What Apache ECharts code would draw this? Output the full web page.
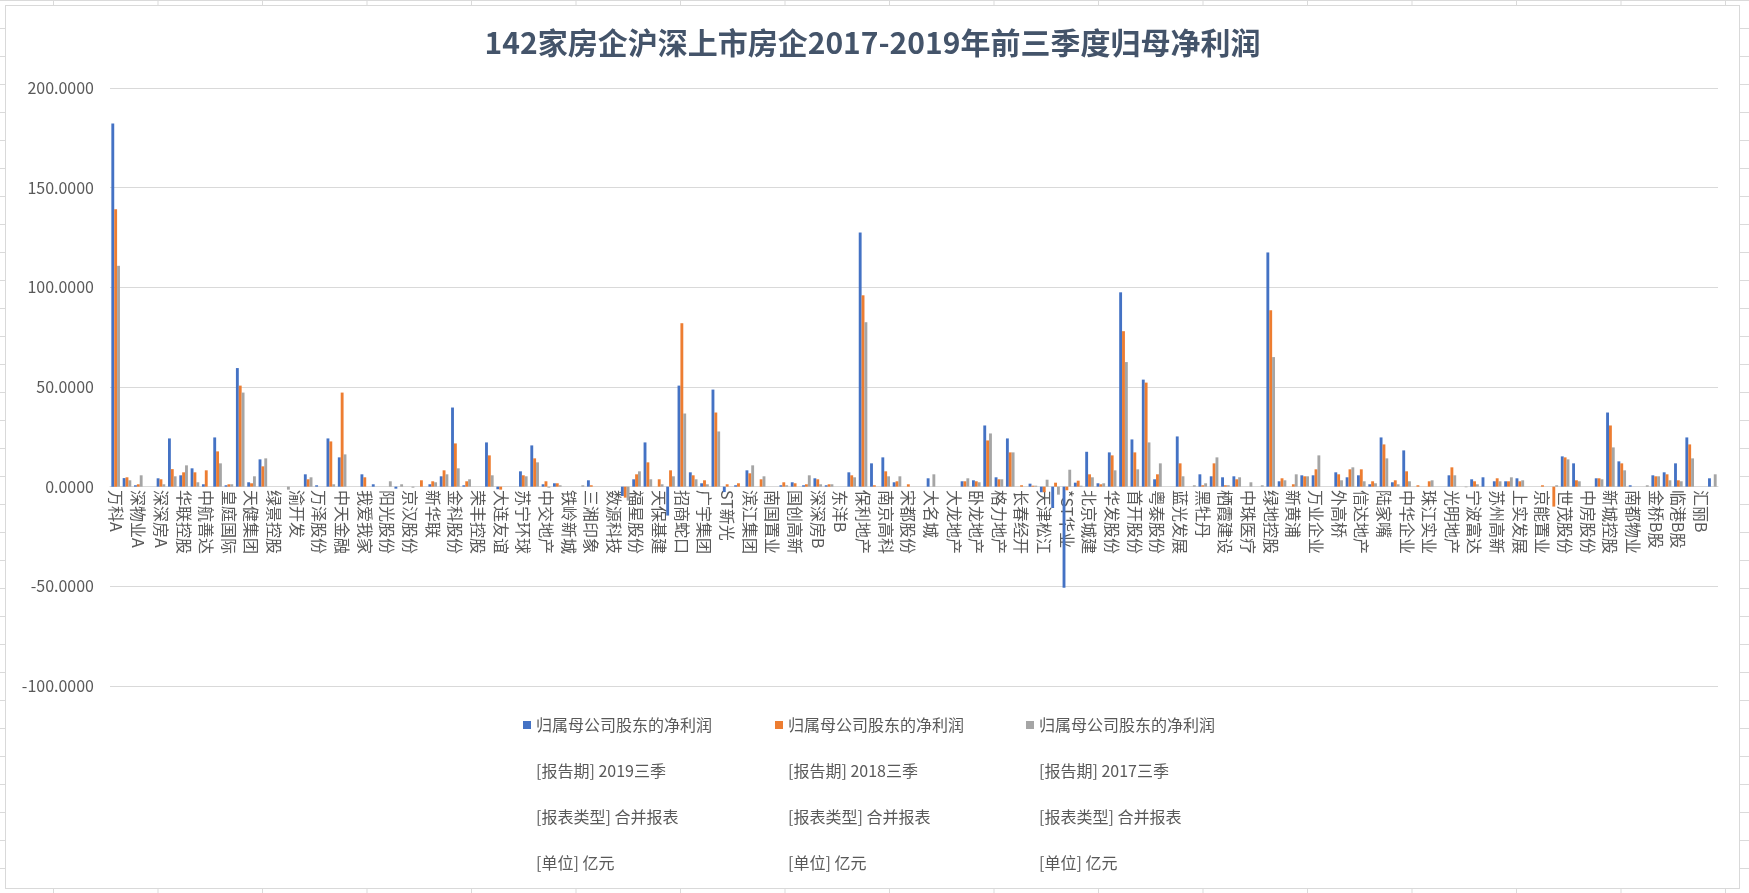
<!DOCTYPE html>
<html>
<head>
<meta charset="utf-8">
<title>142家房企沪深上市房企2017-2019年前三季度归母净利润</title>
<script src="https://cdn.jsdelivr.net/npm/echarts@6/dist/echarts.min.js"></script>
<style>
	html, body {
		margin: 0;
		padding: 0;
		width: 1749px;
		height: 893px;
		overflow: hidden;
		background-color: #fff;
		background-image: linear-gradient(to right, #dadada 1px, transparent 1px),
			linear-gradient(to bottom, #dadada 1px, transparent 1px);
		background-size: 104.5px 28px;
		background-position: 53px 0;
	}
	#chart {
		position: absolute;
		left: 5px;
		top: 5px;
		width: 1735px;
		height: 884px;
		background: #fff;
		border: 1px solid #d9d9d9;
		box-sizing: border-box;
	}
</style>
</head>
<body>
<div id="chart"></div>
<script>
	// company names, every second one is shown on the axis
	var companies = [
		"万科A", "深振业A", "深物业A", "沙河股份", "深深房A", "大悦城", "华联控股", "中洲控股", "中航善达", "泛海控股",
		"皇庭国际", "华侨城A", "天健集团", "金融街", "绿景控股", "中润资源", "渝开发", "荣安地产", "万泽股份", "广宇发展",
		"中天金融", "莱茵体育", "我爱我家", "海德股份", "阳光股份", "中迪投资", "京汉股份", "海航投资", "新华联", "顺发恒业",
		"金科股份", "美好置业", "荣丰控股", "阳光城", "大连友谊", "亚太实业", "苏宁环球", "泰禾集团", "中交地产", "中国武夷",
		"铁岭新城", "财信发展", "三湘印象", "海南高速", "数源科技", "嘉凯城", "福星股份", "中南建设", "天保基建", "银亿股份",
		"招商蛇口", "世荣兆业", "广宇集团", "荣盛发展", "ST新光", "合肥城建", "滨江集团", "世联行", "南国置业", "南山控股",
		"国创高新", "深物业B", "深深房B", "皇庭B", "东洋B", "粤宏远A", "保利地产", "冠城大通", "南京高科", "城投控股",
		"宋都股份", "浙江东日", "大名城", "凤凰股份", "大龙地产", "香江控股", "卧龙地产", "新湖中宝", "格力地产", "迪马股份",
		"长春经开", "鲁商置业", "天津松江", "云南城投", "*ST华业", "天房发展", "北京城建", "万通地产", "华发股份", "华夏幸福",
		"首开股份", "金地集团", "粤泰股份", "空港股份", "蓝光发展", "华丽家族", "黑牡丹", "海航基础", "栖霞建设", "广汇物流",
		"中珠医疗", "市北高新", "绿地控股", "京投发展", "新黄浦", "浦东金桥", "万业企业", "亚通股份", "外高桥", "天地源",
		"信达地产", "电子城", "陆家嘴", "西藏城投", "中华企业", "华远地产", "珠江实业", "北辰实业", "光明地产", "海泰发展",
		"宁波富达", "华鑫股份", "苏州高新", "张江高科", "上实发展", "运盛医疗", "京能置业", "首创置业", "世茂股份", "上海临港",
		"中房股份", "北京城乡", "新城控股", "金隅集团", "南都物业", "嘉宝股份", "金桥B股", "外高B股", "临港B股", "陆家B股",
		"汇丽B", "大名城B"
	];

	// 归属母公司股东的净利润, 亿元
	var profit2019 = [
		182.2, 4.3, 0.7, 0, 4.2, 24.2, 5.7, 9.2, 1.2, 24.7,
		0.7, 59.5, 2.2, 13.7, 0, 0, 0, 6.2, 0.7, 24.2,
		14.7, 0, 6.2, 1.2, 0, -1.0, 0, 0, 1.2, 5.2,
		39.7, 0.7, 0, 22.2, -1.3, 0, 7.7, 20.7, 1.2, 1.7,
		0, 0, 3.2, 0, 0, -4.7, 3.7, 22.2, 0, -14.5,
		50.7, 7.2, 1.7, 48.7, -2.7, 0.7, 8.2, 0, 0, 0.7,
		2.2, 0.7, 4.2, 0.7, 0, 7.2, 127.5, 11.7, 14.7, 2.2,
		0, 0, 4.2, 0, 0, 2.7, 3.2, 30.7, 4.7, 24.2,
		0, 1.5, -2.8, -10.7, -50.7, 2.0, 17.5, 1.7, 17.2, 97.5,
		23.7, 53.7, 3.7, 0, 25.2, 0, 6.2, 5.2, 4.7, 5.2,
		0, 0, 117.5, 2.7, 0, 5.7, 5.7, 0, 7.2, 4.7,
		5.7, 1.2, 24.7, 2.2, 18.2, 0, 0, 0, 5.7, 0,
		3.7, 4.7, 2.7, 2.7, 4.2, 0, 0, 0, 15.2, 11.7,
		0, 4.2, 37.2, 12.7, 0.7, 0, 5.7, 7.2, 11.7, 24.7,
		0, 4.2
	];
	var profit2018 = [
		139.2, 4.7, 1.2, 0, 3.7, 8.8, 7.2, 7.2, 8.2, 17.7,
		1.2, 50.7, 1.7, 10.2, 0, 0, 0, 3.7, 0, 22.7,
		47.2, 0, 4.7, 0, 0, 0, 0, 3.2, 2.7, 8.2,
		21.7, 2.7, 0, 15.7, -1.5, 0, 5.7, 14.2, 2.7, 1.7,
		0, 0, 0.7, 0, 0, -5.5, 6.2, 12.2, 3.7, 8.2,
		82.0, 5.7, 3.2, 37.2, 1.2, 1.7, 6.7, 3.7, 0, 2.2,
		1.7, 1.2, 3.7, 1.2, 0, 5.7, 96.0, 0.7, 7.7, 2.7,
		1.2, 0, 0, 0, 0, 2.7, 2.7, 23.2, 3.7, 17.2,
		0.7, 0.5, -2.8, 2.0, -1.8, 3.0, 6.2, 1.2, 15.7, 78.0,
		17.2, 52.2, 6.2, 0, 11.7, 0, 0.7, 11.7, 0.7, 3.7,
		0, 0, 88.5, 4.2, 1.2, 5.2, 8.7, 0, 6.2, 8.7,
		8.7, 2.7, 21.2, 3.2, 7.7, 0.7, 2.7, 0, 9.7, 0,
		2.7, 0, 4.2, 2.7, 2.7, 0, 0.7, -10.0, 14.7, 3.2,
		0, 4.2, 30.7, 11.7, 0, 0, 5.2, 6.2, 3.2, 21.2,
		0, 0
	];
	var profit2017 = [
		110.8, 3.2, 5.7, 0, 1.2, 5.2, 10.7, 2.2, 0, 11.7,
		1.2, 47.2, 5.2, 14.2, 0, -1.5, 0, 4.7, 0, 1.2,
		16.2, 0, 0, 0, 2.7, 1.2, -0.5, 0, 2.2, 6.2,
		9.2, 3.7, 0, 5.7, 0, 0, 5.2, 12.2, -0.5, 0.7,
		0, 0.7, 0, 0, 0, -7.0, 7.7, 3.7, 1.2, 5.2,
		36.7, 3.7, 1.2, 27.7, 0, 0, 10.7, 5.2, 0, 0.7,
		0, 5.7, 1.2, 1.2, 0, 4.7, 82.5, 0, 5.2, 5.2,
		0, 0, 6.2, 0, 0, 4.2, 2.2, 26.7, 3.7, 17.2,
		0, 0.5, 3.5, -4.0, 8.5, 0.5, 4.7, 1.7, 8.2, 62.5,
		8.7, 22.2, 11.7, 0, 5.2, 0.7, 1.7, 14.7, 0.7, 4.7,
		2.2, 0.7, 65.0, 3.2, 6.2, 5.2, 15.7, 0, 3.2, 9.7,
		2.7, 1.7, 14.2, 1.2, 2.7, 0, 3.2, 0, 5.7, -0.3,
		1.2, 0, 2.7, 4.7, 3.2, 0, 0, 0.7, 13.7, 2.7,
		0, 3.7, 19.7, 8.2, 0, 0.7, 5.2, 3.2, 2.7, 14.2,
		0, 6.2
	];

	var periods = ["2019三季", "2018三季", "2017三季"];
	var seriesColors = ["#4472C4", "#ED7D31", "#A5A5A5"];
	var yTicks = { min: -100, max: 200, step: 50 };

	var fontFamily = "'Noto Sans CJK SC', 'Noto Sans', sans-serif";
	var textColor = "#595959";
	var gridTop = 82, gridBottom = 202, chartHeight = 884;
	var legendLeft = [517, 769, 1020];
	var legendTop = 711;
	var legendLineGap = 46;

	function buildSeries() {
		var values = [profit2019, profit2018, profit2017];
		var list = [];
		for (var i = 0; i < periods.length; i++) {
			list.push({
				name : periods[i],
				type : "bar",
				data : values[i],
				barGap : "0%",
				barCategoryGap : "24%",
				itemStyle : {
					color : seriesColors[i]
				}
			});
		}
		return list;
	}

	function buildLegends() {
		var list = [];
		for (var i = 0; i < periods.length; i++) {
			list.push({
				data : [ periods[i] ],
				left : legendLeft[i],
				top : legendTop,
				padding : 0,
				itemWidth : 8,
				itemHeight : 8,
				icon : "rect",
				formatter : function() {
					return "归属母公司股东的净利润";
				},
				textStyle : {
					fontFamily : fontFamily,
					fontSize : 16,
					color : textColor
				}
			});
		}
		return list;
	}

	// the extra lines under each legend entry
	function buildLegendNotes() {
		var notes = [];
		for (var i = 0; i < periods.length; i++) {
			var lines = [ "[报告期] " + periods[i], "[报表类型] 合并报表", "[单位] 亿元" ];
			for (var j = 0; j < lines.length; j++) {
				notes.push({
					type : "text",
					left : legendLeft[i] + 13,
					top : legendTop + legendLineGap * (j + 1),
					style : {
						text : lines[j],
						fontFamily : fontFamily,
						fontSize : 16,
						fill : textColor
					}
				});
			}
		}
		return notes;
	}

	// labels sit at the zero line, as in the spreadsheet chart
	function zeroOffset() {
		var plotHeight = chartHeight - gridTop - gridBottom;
		return -plotHeight * (0 - yTicks.min) / (yTicks.max - yTicks.min);
	}

	var chart = echarts.init(document.getElementById("chart"));
	chart.setOption({
		animation : false,
		title : {
			text : "142家房企沪深上市房企2017-2019年前三季度归母净利润",
			left : "center",
			top : 17,
			textStyle : {
				fontFamily : fontFamily,
				fontSize : 30,
				fontWeight : "bold",
				color : "#44546A"
			}
		},
		grid : {
			left : 104,
			right : 21,
			top : gridTop,
			bottom : gridBottom
		},
		legend : buildLegends(),
		graphic : buildLegendNotes(),
		xAxis : {
			type : "category",
			data : companies,
			offset : zeroOffset(),
			axisLine : {
				onZero : false,
				lineStyle : {
					color : "#d9d9d9",
					width : 1
				}
			},
			axisTick : {
				show : false
			},
			axisLabel : {
				interval : 1,
				rotate : -90,
				margin : 4,
				fontFamily : fontFamily,
				fontSize : 16,
				color : textColor
			}
		},
		yAxis : {
			type : "value",
			min : yTicks.min,
			max : yTicks.max,
			interval : yTicks.step,
			axisLine : {
				show : false
			},
			axisTick : {
				show : false
			},
			splitLine : {
				lineStyle : {
					color : "#d9d9d9",
					width : 1
				}
			},
			axisLabel : {
				margin : 16,
				fontFamily : fontFamily,
				fontSize : 16,
				color : textColor,
				formatter : function(v) {
					return v.toFixed(4);
				}
			}
		},
		series : buildSeries()
	});
</script>
</body>
</html>
